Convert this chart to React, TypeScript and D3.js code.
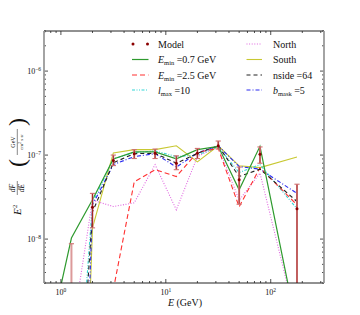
import React from "react";
import * as d3 from "d3";

const energies = [0.79, 1.26, 2.0, 3.16, 5.0, 7.9, 12.6, 20, 31.6, 50, 79, 178];

const model = [null, 1.0e-9, 2.4e-8, 0.86e-7, 1.04e-7, 1.05e-7, 0.8e-7, 1.05e-7, 1.29e-7, 0.51e-7, 1.02e-7, 0.23e-7];
const modelLo = [null, 1e-10, 1.36e-8, 0.75e-7, 0.91e-7, 0.91e-7, 0.67e-7, 0.91e-7, 1.18e-7, 0.26e-7, 0.8e-7, 1e-10];
const modelHi = [null, 8.8e-9, 3.5e-8, 1.0e-7, 1.16e-7, 1.18e-7, 0.98e-7, 1.2e-7, 1.47e-7, 0.72e-7, 1.25e-7, 0.45e-7];

const emin07 = [7.4e-10, 1.03e-8, 2.94e-8, 0.9e-7, 1.09e-7, 1.09e-7, 0.9e-7, 1.16e-7, 1.27e-7, 0.386e-7, 1.27e-7, 8.7e-10];
const emin25 = [null, null, null, 2.5e-9, 0.48e-7, 0.67e-7, 0.556e-7, 1.08e-7, 1.2e-7, 0.242e-7, 0.706e-7, 0.256e-7];
const lmax10 = [null, 1e-11, 0.27e-7, 0.9e-7, 1.07e-7, 1.12e-7, 0.96e-7, 1.0e-7, 1.25e-7, 0.62e-7, 0.77e-7, 0.23e-7];
const north = [null, 7e-10, 0.29e-7, 0.244e-7, 0.27e-7, 0.77e-7, 0.223e-7, 0.96e-7, 1.27e-7, 0.29e-7, 0.61e-7, 9.8e-10];
const south = [null, 1e-15, 1.36e-8, 1.06e-7, 1.16e-7, 1.16e-7, 1.29e-7, 0.83e-7, 1.29e-7, 0.745e-7, 0.71e-7, 0.95e-7];
const nside64 = [null, 3e-12, 0.21e-7, 0.81e-7, 1.04e-7, 1.05e-7, 0.8e-7, 1.05e-7, 1.29e-7, 0.556e-7, 0.68e-7, 0.28e-7];
const bmask5 = [null, 1e-15, 0.255e-7, 0.77e-7, 0.96e-7, 1.04e-7, 0.72e-7, 1.06e-7, 1.29e-7, 0.73e-7, 0.68e-7, 0.35e-7];

const xTickLabels = [1, 10, 100];
const yTickLabels = [1e-8, 1e-7, 1e-6];

const FONT = "'Liberation Serif', 'DejaVu Serif', serif";

type Series = { key: string; values: (number | null)[]; color: string; dash: string | null; width: number };

const series: Series[] = [
  { key: "north", values: north, color: "#e066e0", dash: "1,1.6", width: 1.1 },
  { key: "south", values: south, color: "#c8c832", dash: null, width: 1.1 },
  { key: "lmax", values: lmax10, color: "#33d6d6", dash: "3,1.5,1,1.5,1,1.5", width: 1.1 },
  { key: "bmask", values: bmask5, color: "#2a2af0", dash: "4,2,1,2", width: 1.1 },
  { key: "emin25", values: emin25, color: "#ff3030", dash: "5,3", width: 1.1 },
  { key: "nside", values: nside64, color: "#222222", dash: "4,3", width: 1.1 },
  { key: "emin07", values: emin07, color: "#2e9a2e", dash: null, width: 1.2 },
];

export default function App() {
  const L = 44, R = 324, T = 31, B = 283;
  const x = d3.scaleLog().domain([0.69, 322]).range([L, R]);
  const y = d3.scaleLog().domain([3e-9, 3e-6]).range([B, T]);

  const line = d3
    .line<[number, number | null]>()
    .defined((d) => d[1] != null)
    .x((d) => x(d[0]))
    .y((d) => y(d[1] as number));

  const xTicks: { v: number; major: boolean }[] = [];
  for (let n = -1; n <= 2; n++)
    for (let k = 1; k <= 9; k++) {
      const v = k * Math.pow(10, n);
      if (v >= 0.69 && v <= 322) xTicks.push({ v, major: k === 1 });
    }
  const yTicks: { v: number; major: boolean }[] = [];
  for (let n = -9; n <= -6; n++)
    for (let k = 1; k <= 9; k++) {
      const v = k * Math.pow(10, n);
      if (v >= 3e-9 && v <= 3e-6) yTicks.push({ v, major: k === 1 });
    }

  const legendRows = [44, 59.5, 75, 90];
  const c1s = 132, c1e = 148.5, c1t = 158;
  const c2s = 246.5, c2e = 262, c2t = 273;

  const sub = (main: string, s: string, rest: string, xx: number, yy: number) => (
    <text x={xx} y={yy} fontFamily={FONT} fontSize={10} fill="#111">
      <tspan fontStyle="italic">{main}</tspan>
      <tspan fontSize={6.5} dy={2}>{s}</tspan>
      <tspan dy={-2}>{rest}</tspan>
    </text>
  );

  return (
    <svg width={360} height={315} style={{ position: "absolute", left: 0, top: 0 }}>
      <defs>
        <clipPath id="plot">
          <rect x={L} y={T} width={R - L} height={B - T} />
        </clipPath>
      </defs>
      <rect x={0} y={0} width={360} height={315} fill="#fff" />

      <g clipPath="url(#plot)">
        {series.map((s) => (
          <path
            key={s.key}
            d={line(energies.map((e, i) => [e, s.values[i]] as [number, number | null])) || ""}
            fill="none"
            stroke={s.color}
            strokeWidth={s.width}
            strokeDasharray={s.dash || undefined}
          />
        ))}
        {energies.map((e, i) =>
          model[i] == null ? null : (
            <g key={"eb" + i}>
              <line x1={x(e)} x2={x(e)} y1={y(modelLo[i] as number)} y2={y(modelHi[i] as number)} stroke="#dc9a9a" strokeWidth={2} />
              {i > 1 && (
                <line x1={x(e)} x2={x(e)} y1={y(modelLo[i] as number)} y2={y(modelHi[i] as number)} stroke="#a01818" strokeWidth={0.9} />
              )}
              <line x1={x(e) - 2.6} x2={x(e) + 2.6} y1={y(modelHi[i] as number)} y2={y(modelHi[i] as number)} stroke="#d07070" strokeWidth={1.1} />
              <line x1={x(e) - 2.6} x2={x(e) + 2.6} y1={y(modelLo[i] as number)} y2={y(modelLo[i] as number)} stroke="#d07070" strokeWidth={1.1} />
              <circle cx={x(e)} cy={y(model[i] as number)} r={1.5} fill="#8b0000" />
            </g>
          )
        )}
      </g>

      {/* ticks */}
      {xTicks.map((t, i) => (
        <g key={"xt" + i}>
          <line x1={x(t.v)} x2={x(t.v)} y1={B} y2={B - (t.major ? 4 : 2)} stroke="#222" strokeWidth={0.8} />
          <line x1={x(t.v)} x2={x(t.v)} y1={T} y2={T + (t.major ? 4 : 2)} stroke="#222" strokeWidth={0.8} />
        </g>
      ))}
      {yTicks.map((t, i) => (
        <g key={"yt" + i}>
          <line x1={L} x2={L + (t.major ? 4 : 2)} y1={y(t.v)} y2={y(t.v)} stroke="#222" strokeWidth={0.8} />
          <line x1={R} x2={R - (t.major ? 4 : 2)} y1={y(t.v)} y2={y(t.v)} stroke="#222" strokeWidth={0.8} />
        </g>
      ))}

      {/* frame */}
      <line x1={L} x2={R} y1={T} y2={T} stroke="#222" strokeWidth={1} />
      <line x1={L} x2={R} y1={B} y2={B} stroke="#222" strokeWidth={1} />
      <line x1={L} x2={L} y1={T} y2={B} stroke="#9a9a9a" strokeWidth={1.8} />
      <line x1={R} x2={R} y1={T} y2={B} stroke="#9a9a9a" strokeWidth={1.8} />

      {/* tick labels */}
      {xTickLabels.map((v, i) => (
        <text key={"xl" + i} x={x(v)} y={295} textAnchor="middle" fontFamily={FONT} fontSize={8} fill="#111">
          10<tspan fontSize={5.5} dy={-3.5}>{Math.round(Math.log10(v))}</tspan>
        </text>
      ))}
      {yTickLabels.map((v, i) => (
        <text key={"yl" + i} x={41} y={y(v) + 3} textAnchor="end" fontFamily={FONT} fontSize={8} fill="#111">
          10<tspan fontSize={5.5} dy={-3.5}>{"\u2212" + Math.abs(Math.round(Math.log10(v)))}</tspan>
        </text>
      ))}

      {/* axis labels */}
      <text x={185} y={306} textAnchor="middle" fontFamily={FONT} fontSize={10} fill="#111">
        <tspan fontStyle="italic">E</tspan> (GeV)
      </text>
      <g transform="translate(17,158) rotate(-90)" fontFamily={FONT} fill="#111">
        <text x={-57} y={4} fontSize={11} fontStyle="italic">E</text>
        <text x={-50} y={-0.5} fontSize={6.5}>2</text>
        <text x={-30} y={-1.6} fontSize={7.5} fontStyle="italic" textAnchor="middle">dF</text>
        <line x1={-37} x2={-23} y1={0.3} y2={0.3} stroke="#111" strokeWidth={0.5} />
        <text x={-30} y={7} fontSize={7.5} fontStyle="italic" textAnchor="middle">dE</text>
        <text x={-9} y={7.5} fontSize={24} fontWeight={100}>(</text>
        <text x={16} y={-1.8} fontSize={6} textAnchor="middle">GeV</text>
        <line x1={3} x2={29} y1={0.3} y2={0.3} stroke="#111" strokeWidth={0.5} />
        <text x={16} y={6.2} fontSize={5} textAnchor="middle">cm<tspan fontSize={3.8} dy={-2}>2</tspan><tspan dy={2}> s sr</tspan></text>
        <text x={32} y={7.5} fontSize={24} fontWeight={100}>)</text>
      </g>

      {/* legend */}
      <circle cx={c1s + 1} cy={legendRows[0]} r={1.5} fill="#8b0000" />
      <circle cx={c1e - 1} cy={legendRows[0]} r={1.5} fill="#8b0000" />
      <text x={c1t} y={legendRows[0] + 3.5} fontFamily={FONT} fontSize={10} fill="#111">Model</text>

      <line x1={c1s} x2={c1e} y1={legendRows[1]} y2={legendRows[1]} stroke="#2e9a2e" strokeWidth={1.2} />
      {sub("E", "min", " =0.7 GeV", c1t, legendRows[1] + 3.5)}
      <line x1={c1s} x2={c1e} y1={legendRows[2]} y2={legendRows[2]} stroke="#ff3030" strokeWidth={1.1} strokeDasharray="5,3" />
      {sub("E", "min", " =2.5 GeV", c1t, legendRows[2] + 3.5)}
      <line x1={c1s} x2={c1e} y1={legendRows[3]} y2={legendRows[3]} stroke="#33d6d6" strokeWidth={1.1} strokeDasharray="3,1.5,1,1.5,1,1.5" />
      {sub("l", "max", " =10", c1t, legendRows[3] + 3.5)}

      <line x1={c2s} x2={c2e} y1={legendRows[0]} y2={legendRows[0]} stroke="#e066e0" strokeWidth={1.1} strokeDasharray="1,1.6" />
      <text x={c2t} y={legendRows[0] + 3.5} fontFamily={FONT} fontSize={10} fill="#111">North</text>
      <line x1={c2s} x2={c2e} y1={legendRows[1]} y2={legendRows[1]} stroke="#c8c832" strokeWidth={1.1} />
      <text x={c2t} y={legendRows[1] + 3.5} fontFamily={FONT} fontSize={10} fill="#111">South</text>
      <line x1={c2s} x2={c2e} y1={legendRows[2]} y2={legendRows[2]} stroke="#222" strokeWidth={1.1} strokeDasharray="4,3" />
      <text x={c2t} y={legendRows[2] + 3.5} fontFamily={FONT} fontSize={10} fill="#111">nside =64</text>
      <line x1={c2s} x2={c2e} y1={legendRows[3]} y2={legendRows[3]} stroke="#2a2af0" strokeWidth={1.1} strokeDasharray="4,2,1,2" />
      {sub("b", "mask", " =5", c2t, legendRows[3] + 3.5)}
    </svg>
  );
}
